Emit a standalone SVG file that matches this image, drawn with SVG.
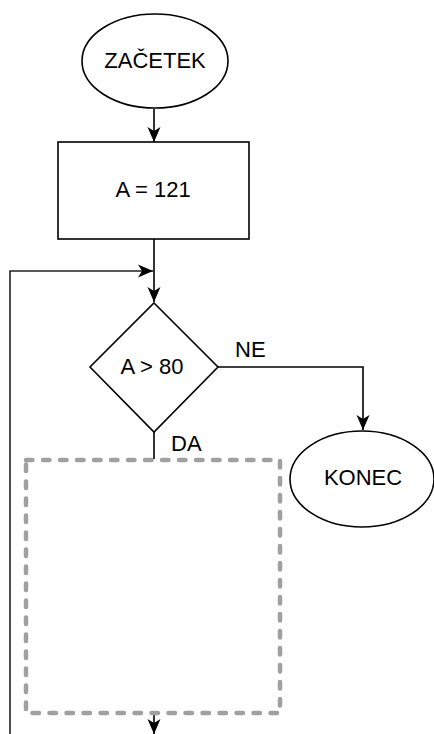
<svg xmlns="http://www.w3.org/2000/svg" width="434" height="734" viewBox="0 0 434 734">
<defs>
<style>
.s{fill:#fff;stroke:#000;stroke-width:1.6}
.t{font-family:"Liberation Sans",Arial,sans-serif;font-size:22px;fill:#000;text-anchor:middle}
.l{font-family:"Liberation Sans",Arial,sans-serif;font-size:22px;fill:#000}
.c{fill:none;stroke:#000;stroke-width:1.6}
</style>
<marker id="a" markerWidth="16" markerHeight="14" viewBox="0 0 16 14" refX="15" refY="7" orient="auto" markerUnits="userSpaceOnUse">
<path d="M0,0.5 L15,7 L0,13.5 L4,7 Z" fill="#000"/>
</marker>
</defs>
<rect width="434" height="734" fill="#fff"/>
<g id="connectors">
<path class="c" d="M154,109 V142" marker-end="url(#a)"/>
<path class="c" d="M154,239 V302" marker-end="url(#a)"/>
<path class="c" d="M10,734 V271 H153" marker-end="url(#a)" style="stroke:#222"/>
<path class="c" d="M218,367 H363 V430" marker-end="url(#a)"/>
<path class="c" d="M154,432 V459"/>
<path class="c" d="M154,715 V734" marker-end="url(#a)"/>
</g>
<g id="start">
<ellipse class="s" cx="155" cy="61" rx="73" ry="47"/>
<text class="t" x="155" y="68">ZAČETEK</text>
</g>
<g id="assign">
<rect class="s" x="58" y="142" width="191" height="97"/>
<text class="t" x="153" y="197">A = 121</text>
</g>
<g id="decision">
<polygon class="s" points="154,303 218,367 154,432 90,367"/>
<text class="t" x="152" y="374">A &gt; 80</text>
</g>
<g id="labels">
<text class="l" x="235" y="357">NE</text>
<text class="l" x="171" y="451">DA</text>
</g>
<g id="end">
<ellipse class="s" cx="362" cy="479" rx="72" ry="48"/>
<text class="t" x="363" y="485">KONEC</text>
</g>
<g id="block">
<rect x="26" y="460" width="254" height="253" fill="none" stroke="#a0a0a0" stroke-width="4.5" stroke-dasharray="6.5 10.5" stroke-linecap="round"/>
</g>
</svg>
